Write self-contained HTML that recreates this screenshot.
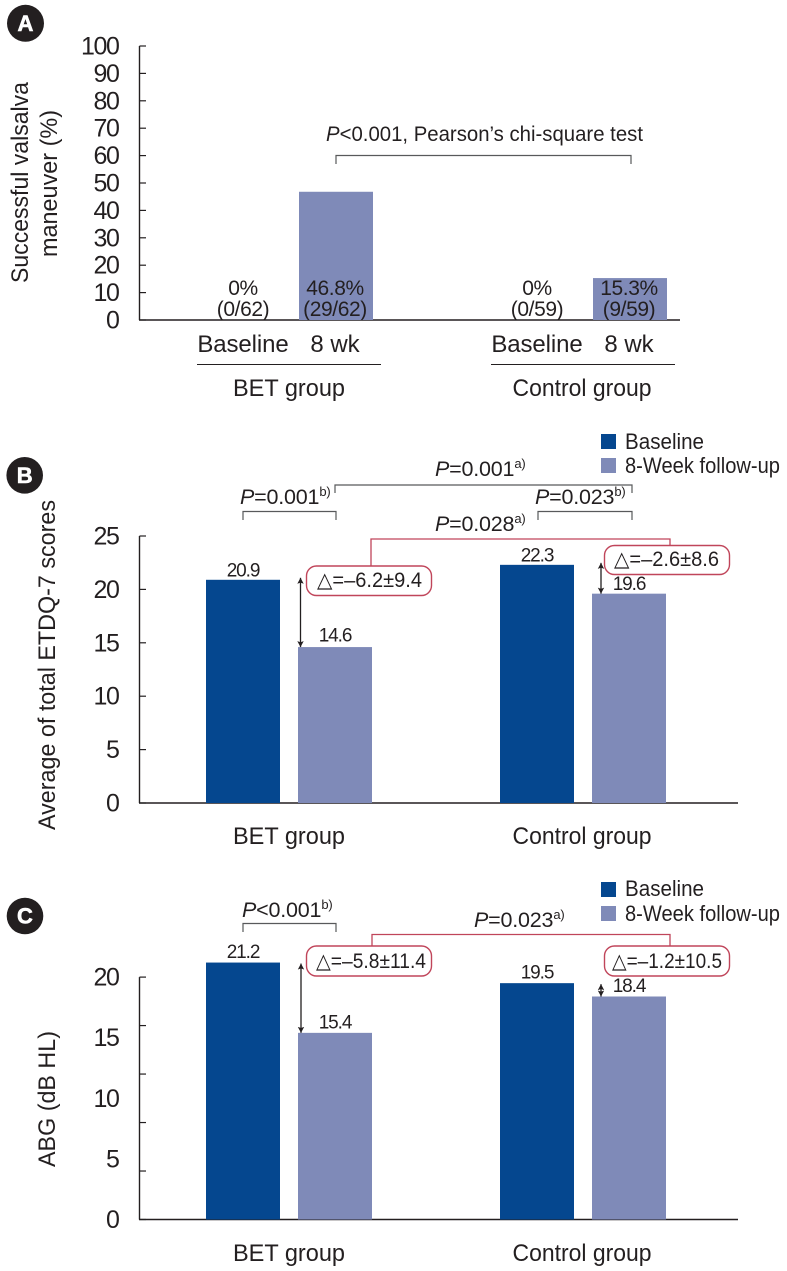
<!DOCTYPE html>
<html lang="en">
<head>
<meta charset="utf-8">
<title>Valsalva, ETDQ-7 and ABG outcomes</title>
<style>
html,body{margin:0;padding:0;background:#fff;}
svg{display:block;}
text{font-family:"Liberation Sans","DejaVu Sans",sans-serif;fill:#231f20;}
.t23{font-size:24.5px;}
.mid{text-anchor:middle;}
.p{font-size:21.5px;letter-spacing:-0.2px;}
.br{fill:none;stroke:#58595b;stroke-width:1.2;}
.red{fill:none;stroke:#c0455a;stroke-width:1.3;}
.box{fill:#fff;stroke:#c0455a;stroke-width:1.4;}
.sup{font-size:13px;}
.badge-letter{fill:#fff;stroke:#fff;stroke-width:0.6;}
</style>
</head>
<body>
<svg id="chart" xmlns="http://www.w3.org/2000/svg" width="787" height="1271" viewBox="0 0 787 1271">
<defs>
<marker id="ah" markerUnits="userSpaceOnUse" markerWidth="6" markerHeight="7" refX="6" refY="3.500" orient="auto-start-reverse"><path d="M0 0.300L6 3.500L0 6.700L1.200 3.500Z" fill="#231f20"/></marker>
</defs>

<g id="panel-a">
<circle cx="25.5" cy="23.3" r="18.5" fill="#231f20"/>
<text x="25.5" y="31" class="mid badge-letter" font-size="22" font-weight="700">A</text>
<text class="t23" transform="translate(28,283) rotate(-90)" textLength="201" lengthAdjust="spacingAndGlyphs">Successful valsalva</text>
<text class="t23" transform="translate(57,257) rotate(-90)" textLength="147" lengthAdjust="spacingAndGlyphs">maneuver (%)</text>
<text x="326" y="141" font-size="21.5" textLength="317" lengthAdjust="spacingAndGlyphs"><tspan font-style="italic">P</tspan>&lt;0.001, Pearson’s chi-square test</text>
<path class="br" d="M336 164V155.500H631V164"/>
<line x1="197" x2="381" y1="364.5" y2="364.5" stroke="#231f20" stroke-width="1"/>
<line x1="491" x2="675" y1="364.5" y2="364.5" stroke="#231f20" stroke-width="1"/>
</g>

<g id="panel-b">
<circle cx="24.7" cy="475.3" r="18.3" fill="#231f20"/>
<text x="24.7" y="483" class="mid badge-letter" font-size="22" font-weight="700">B</text>
<text class="t23" transform="translate(55,830) rotate(-90)" textLength="330" lengthAdjust="spacingAndGlyphs">Average of total ETDQ-7 scores</text>
<rect x="601" y="434" width="15" height="15" fill="#05478f"/>
<rect x="601" y="458" width="15" height="15" fill="#7f8ab8"/>
<text x="625" y="449" font-size="22" textLength="79" lengthAdjust="spacingAndGlyphs">Baseline</text>
<text x="625" y="473" font-size="22" textLength="155" lengthAdjust="spacingAndGlyphs">8-Week follow-up</text>
<text x="435" y="476" class="p"><tspan font-style="italic">P</tspan>=0.001<tspan class="sup" dy="-8">a)</tspan></text>
<path class="br" d="M335 493V485H632V493"/>
<text x="240" y="504" class="p"><tspan font-style="italic">P</tspan>=0.001<tspan class="sup" dy="-8">b)</tspan></text>
<path class="br" d="M243 520V511.500H336V520"/>
<text x="535" y="504" class="p"><tspan font-style="italic">P</tspan>=0.023<tspan class="sup" dy="-8">b)</tspan></text>
<path class="br" d="M538 520V511.500H632V520"/>
<text x="435" y="531" class="p"><tspan font-style="italic">P</tspan>=0.028<tspan class="sup" dy="-8">a)</tspan></text>
<path class="red" d="M371 567V539H670V546"/>
<rect class="box" x="306.500" y="566" width="125" height="29.500" rx="10"/>
<text x="317" y="587" font-size="21" textLength="105" lengthAdjust="spacingAndGlyphs">△=–6.2±9.4</text>
<rect class="box" x="604.500" y="545.500" width="125" height="29" rx="10"/>
<text x="614" y="566" font-size="21" textLength="105" lengthAdjust="spacingAndGlyphs">△=–2.6±8.6</text>
</g>

<g id="panel-c">
<circle cx="25" cy="916" r="18.3" fill="#231f20"/>
<text x="25" y="923.500" class="mid badge-letter" font-size="22" font-weight="700">C</text>
<text class="t23" transform="translate(55,1167) rotate(-90)" textLength="136" lengthAdjust="spacingAndGlyphs">ABG (dB HL)</text>
<rect x="601" y="882" width="15" height="15" fill="#05478f"/>
<rect x="601" y="906" width="15" height="15" fill="#7f8ab8"/>
<text x="625" y="896" font-size="22" textLength="79" lengthAdjust="spacingAndGlyphs">Baseline</text>
<text x="625" y="921" font-size="22" textLength="155" lengthAdjust="spacingAndGlyphs">8-Week follow-up</text>
<text x="242" y="917" class="p"><tspan font-style="italic">P</tspan>&lt;0.001<tspan class="sup" dy="-8">b)</tspan></text>
<path class="br" d="M243 932V923.500H336V932"/>
<text x="474" y="927" class="p"><tspan font-style="italic">P</tspan>=0.023<tspan class="sup" dy="-8">a)</tspan></text>
<path class="red" d="M372 947V934.500H670V947"/>
<rect class="box" x="306.500" y="946" width="125" height="30" rx="10"/>
<text x="316" y="968" font-size="21" textLength="110" lengthAdjust="spacingAndGlyphs">△=–5.8±11.4</text>
<rect class="box" x="604.500" y="946" width="125" height="30" rx="10"/>
<text x="612" y="968" font-size="21" textLength="110" lengthAdjust="spacingAndGlyphs">△=–1.2±10.5</text>
</g>
</svg>

<script>
const groups = ['BET group', 'Control group'];
const panelATimepoints = ['Baseline', '8 wk'];

const panelATicks = [0, 10, 20, 30, 40, 50, 60, 70, 80, 90, 100];
const panelABaseline = [0, 0];
const panelAFollowup = [46.8, 15.3];
const panelABaselineCounts = ['(0/62)', '(0/59)'];
const panelAFollowupCounts = ['(29/62)', '(9/59)'];

const panelBTicks = [0, 5, 10, 15, 20, 25];
const panelBBaseline = [20.9, 22.3];
const panelBFollowup = [14.6, 19.6];

const panelCTickLabels = [0, 5, 10, 15, 20];
const panelCTickMarks = [0, 4, 8, 12, 16, 20];
const panelCBaseline = [21.2, 19.5];
const panelCFollowup = [15.4, 18.4];

const NS = 'http://www.w3.org/2000/svg';
const BASE_COLOR = '#05478f';
const FOLLOW_COLOR = '#7f8ab8';
const BAR_W = 74;

function yA(v) { return 320 - v * 2.74; }
function yB(v) { return 803 - v * 10.68; }
function yC(v) { return 1219.5 - v * 12.12; }
function xBar(group, series) { return 206 + group * 294 + series * 92; }
function xMid(group, series) { return xBar(group, series) + BAR_W / 2; }

function make(parent, tag, attrs, content) {
  const node = document.createElementNS(NS, tag);
  for (const key in attrs) node.setAttribute(key, attrs[key]);
  if (content !== undefined) node.textContent = content;
  document.getElementById(parent).appendChild(node);
  return node;
}

function drawAxis(panel, yFn, xEnd, tickMarks, tickLabels, maxV) {
  const axisY = make(panel, 'line', {x1: 139.5, x2: 139.5, y1: yFn(maxV), y2: yFn(0), stroke: '#231f20', 'stroke-width': 1.4});
  
  
  const axisX = make(panel, 'line', {x1: 139, x2: xEnd, y1: yFn(0), y2: yFn(0), stroke: '#231f20', 'stroke-width': 1.6});
  
  
  tickMarks.forEach(function (t) {
    const tick = make(panel, 'line', {x1: 139.5, x2: 146, y1: yFn(t), y2: yFn(t), stroke: '#231f20', 'stroke-width': 1.2});
    
    
  });
  tickLabels.forEach(function (t) {
    const label = make(panel, 'text', {x: 118.5, y: yFn(t) + 8.5, 'text-anchor': 'end', 'font-size': 25, 'letter-spacing': -1.4}, String(t));
    
    
  });
}

function drawBar(panel, yFn, group, series, value, name, shift) {
  const bar = make(panel, 'rect', {
    x: xBar(group, series) + shift, y: yFn(value), width: BAR_W, height: yFn(0) - yFn(value),
    fill: series === 0 ? BASE_COLOR : FOLLOW_COLOR
  });
  
  
}

function drawValue(panel, x, y, value, name) {
  const label = make(panel, 'text', {x: x, y: y, 'text-anchor': 'middle', 'font-size': 19, 'letter-spacing': -1.1}, value.toFixed(1));
  
  
}

function drawArrow(panel, x, y1, y2, name) {
  const arrow = make(panel, 'line', {
    x1: x, x2: x, y1: y1, y2: y2, stroke: '#231f20', 'stroke-width': 1.3,
    'marker-start': 'url(#ah)', 'marker-end': 'url(#ah)'
  });
  
  
}

function drawGroupLabel(panel, group, y) {
  const label = make(panel, 'text', {x: group === 0 ? 289 : 582, y: y, 'text-anchor': 'middle', 'font-size': 24.5, textLength: group === 0 ? 112 : 139, lengthAdjust: 'spacingAndGlyphs'}, groups[group]);
  
  
}

/* Panel A */
drawAxis('panel-a', yA, 680, panelATicks, panelATicks, 100);
groups.forEach(function (g, i) {
  drawBar('panel-a', yA, i, 0, panelABaseline[i], 'bar-a-baseline', 1);
  drawBar('panel-a', yA, i, 1, panelAFollowup[i], 'bar-a-followup', 1);
  const pct0 = make('panel-a', 'text', {x: xMid(i, 0), y: 295, 'text-anchor': 'middle', 'font-size': 21, 'letter-spacing': -0.4}, panelABaseline[i] + '%');
  
  
  const cnt0 = make('panel-a', 'text', {x: xMid(i, 0), y: 316, 'text-anchor': 'middle', 'font-size': 21, 'letter-spacing': -0.4}, panelABaselineCounts[i]);
  
  
  const pct1 = make('panel-a', 'text', {x: xMid(i, 1), y: 295, 'text-anchor': 'middle', 'font-size': 21, 'letter-spacing': -0.4}, panelAFollowup[i].toFixed(1) + '%');
  
  
  const cnt1 = make('panel-a', 'text', {x: xMid(i, 1), y: 316, 'text-anchor': 'middle', 'font-size': 21, 'letter-spacing': -0.4}, panelAFollowupCounts[i]);
  
  
  const time0 = make('panel-a', 'text', {x: xMid(i, 0), y: 352, 'text-anchor': 'middle', 'font-size': 24, 'letter-spacing': -0.1}, panelATimepoints[0]);
  
  
  const time1 = make('panel-a', 'text', {x: xMid(i, 1), y: 352, 'text-anchor': 'middle', 'font-size': 24}, panelATimepoints[1]);
  
  
  drawGroupLabel('panel-a', i, 396);
});

/* Panel B */
drawAxis('panel-b', yB, 738, panelBTicks, panelBTicks, 25);
groups.forEach(function (g, i) {
  drawBar('panel-b', yB, i, 0, panelBBaseline[i], 'bar-b-baseline', 0);
  drawBar('panel-b', yB, i, 1, panelBFollowup[i], 'bar-b-followup', 0);
  drawValue('panel-b', xMid(i, 0), yB(panelBBaseline[i]) - 3.5, panelBBaseline[i], 'value-label-b-baseline');
  drawValue('panel-b', xMid(i, 1), yB(panelBFollowup[i]) - (i === 0 ? 5.5 : 3.5), panelBFollowup[i], 'value-label-b-followup');
  drawArrow('panel-b', i === 0 ? 300.5 : 601, yB(panelBBaseline[i]) - 2, yB(panelBFollowup[i]), 'change-arrow-b');
  drawGroupLabel('panel-b', i, 844);
});

/* Panel C */
drawAxis('panel-c', yC, 738, panelCTickMarks, panelCTickLabels, 20);
groups.forEach(function (g, i) {
  drawBar('panel-c', yC, i, 0, panelCBaseline[i], 'bar-c-baseline', 0);
  drawBar('panel-c', yC, i, 1, panelCFollowup[i], 'bar-c-followup', 0);
  drawValue('panel-c', xMid(i, 0), yC(panelCBaseline[i]) - 4.5, panelCBaseline[i], 'value-label-c-baseline');
  drawValue('panel-c', xMid(i, 1), yC(panelCFollowup[i]) - 4.5, panelCFollowup[i], 'value-label-c-followup');
  drawArrow('panel-c', i === 0 ? 301 : 601, yC(panelCBaseline[i]) + 1, yC(panelCFollowup[i]), 'change-arrow-c');
  drawGroupLabel('panel-c', i, 1261);
});
</script>
</body>
</html>
